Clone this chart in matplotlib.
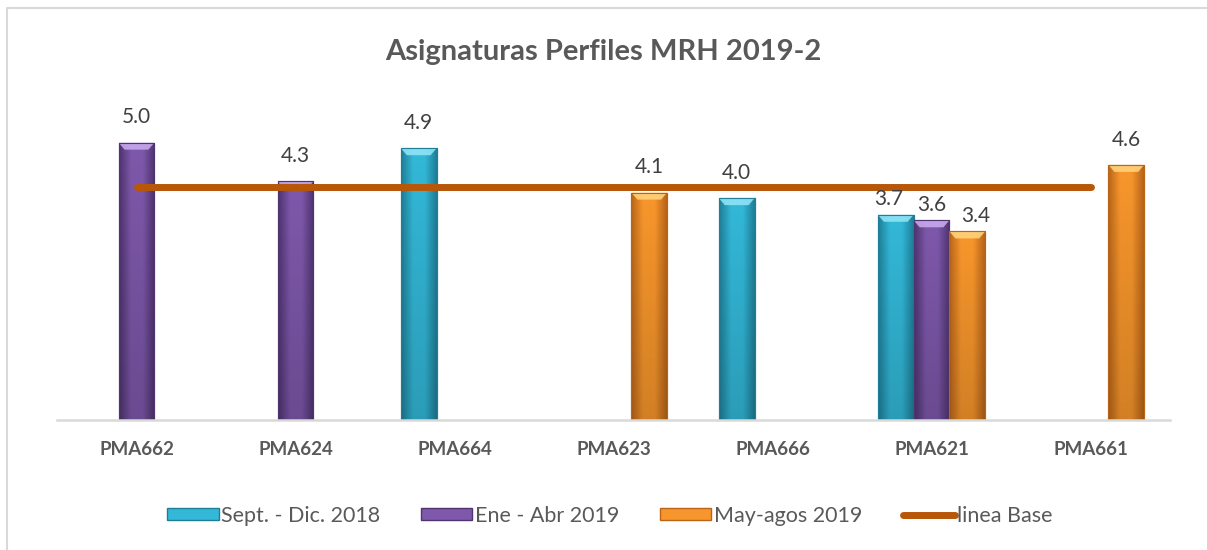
import numpy as np
import matplotlib
matplotlib.use("Agg")
import matplotlib.pyplot as plt
from matplotlib.patches import Polygon, Rectangle
from matplotlib.lines import Line2D
from matplotlib.colors import LinearSegmentedColormap

plt.rcParams['font.family'] = ['Lato', 'DejaVu Sans']

categories = ["PMA662", "PMA624", "PMA664", "PMA623", "PMA666", "PMA621", "PMA661"]
series_names = ["Sept. - Dic. 2018", "Ene - Abr 2019", "May-agos 2019"]
sept_dic_2018 = [np.nan, np.nan, 4.9, np.nan, 4.0, 3.7, np.nan]
ene_abr_2019 = [5.0, 4.3, np.nan, np.nan, np.nan, 3.6, np.nan]
may_agos_2019 = [np.nan, np.nan, np.nan, 4.1, np.nan, 3.4, 4.6]
linea_base = [4.2] * 7
title = "Asignaturas Perfiles MRH 2019-2"

series = [sept_dic_2018, ene_abr_2019, may_agos_2019]
main_colors = ["#33B8D8", "#7E58AA", "#F7962C"]
dark_colors = ["#1F7F98", "#4F3470", "#B8651A"]
light_colors = ["#8FE3F5", "#C7A8EC", "#FFD27A"]
line_color = "#B85708"
text_color = "#404040"

W, H = 1207, 550
fig = plt.figure(figsize=(W / 100, H / 100), dpi=100)
ax = fig.add_axes([57 / W, (H - 420) / H, 1113 / W, 311 / H])
ymax = 311 / 55.47
ax.set_xlim(-0.5, len(categories) - 0.5)
ax.set_ylim(0, ymax)

x = np.arange(len(categories))
bw = 0.225
offsets = [-bw, 0, bw]
px_x = (len(categories)) / 1113.0
px_y = ymax / 311.0
# labels in the crowded PMA621 group sit closer to their bars
crowded = {5}

for s, vals in enumerate(series):
    cmap = LinearSegmentedColormap.from_list(
        "c%d" % s, [dark_colors[s], main_colors[s], main_colors[s], dark_colors[s]])
    vcmap = LinearSegmentedColormap.from_list(
        "v%d" % s, [(0, 0, 0, 0.15), (0, 0, 0, 0.0)])
    bars = ax.bar(x + offsets[s], np.nan_to_num(vals, nan=0.0), width=bw,
                  color=main_colors[s], edgecolor=dark_colors[s], linewidth=0.8,
                  zorder=2, label=series_names[s])
    for xi, v, b in zip(x, vals, bars):
        if np.isnan(v):
            b.set_visible(False)
            continue
        x0 = xi + offsets[s] - bw / 2
        x1 = x0 + bw
        grad = np.linspace(0, 1, 64).reshape(1, -1)
        im = ax.imshow(grad, extent=[x0, x1, 0, v], cmap=cmap, aspect='auto',
                       zorder=2.1, interpolation='bilinear')
        im.set_clip_path(b)
        vg = np.linspace(0, 1, 64).reshape(-1, 1)
        im2 = ax.imshow(vg, extent=[x0, x1, 0, v], cmap=vcmap, aspect='auto',
                        origin='lower', zorder=2.2, interpolation='bilinear')
        im2.set_clip_path(b)
        d = 6 * px_x
        hh = 7 * px_y
        top = Polygon([[x0, v], [x1, v], [x1 - d, v - hh], [x0 + d, v - hh]],
                      closed=True, facecolor=light_colors[s], edgecolor='none',
                      alpha=0.9, zorder=2.3)
        ax.add_patch(top)
        ax.add_patch(Rectangle((x0, 0), bw, v, fill=False,
                               edgecolor=dark_colors[s], linewidth=0.8, zorder=2.4))
        if xi in crowded:
            dx = {0: -5, 1: 0, 2: 6}[s]
            dy = 4
        else:
            dx, dy = 0, 11
        ax.annotate("%.1f" % v, (xi + offsets[s], v), xytext=(dx, dy),
                    textcoords='offset points', ha='center', va='bottom',
                    fontsize=15, color=text_color, zorder=4)

ax.plot(x, linea_base, color=line_color, linewidth=5, solid_capstyle='round',
        zorder=3, label="linea Base")

for sp in ["top", "right", "left"]:
    ax.spines[sp].set_visible(False)
ax.spines["bottom"].set_color("#D9D9D9")
ax.spines["bottom"].set_linewidth(1.8)
ax.set_yticks([])
ax.set_xticks(x)
ax.set_xticklabels(categories, fontsize=13.5, fontweight='bold', color="#595959")
ax.tick_params(axis='x', length=0, pad=15)

fig.text(0.5, (H - 52) / H, title, ha='center', va='center', fontsize=21,
         fontweight='bold', color="#595959")

handles = [Rectangle((0, 0), 1, 1, facecolor=main_colors[i], edgecolor=dark_colors[i])
           for i in range(3)]
handles.append(Line2D([0], [0], color=line_color, linewidth=5, solid_capstyle='round'))
labels = series_names + ["linea Base"]
fig.legend(handles, labels, loc='center', bbox_to_anchor=(0.505, (H - 516) / H),
           ncol=4, frameon=False, prop={'size': 15.5},
           handlelength=2.4, handleheight=0.5,
           handletextpad=0.1, columnspacing=1.9, labelcolor="#595959")

border = Line2D([7 / W, 7 / W, 1], [0, (H - 8) / H, (H - 8) / H],
                transform=fig.transFigure, color="#D9D9D9", linewidth=1.5)
fig.add_artist(border)

fig.savefig("out.png", dpi=100, facecolor="white")
